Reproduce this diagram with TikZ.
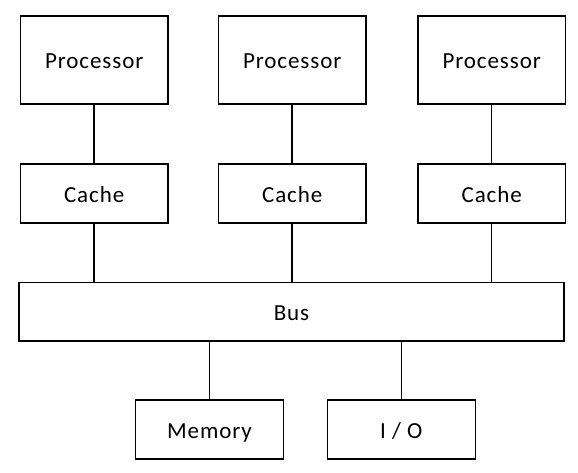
\documentclass[tikz,border=0pt]{standalone}
\usepackage{fontspec}
\setmainfont{Carlito}[LetterSpace=4]
\begin{document}
\begin{tikzpicture}[x=1pt,y=-1pt,
  box/.style={draw=black,line width=1.5pt,inner sep=0pt,font=\fontsize{23}{27}\selectfont,text height=15pt,text depth=0pt},
  procbox/.style={box,minimum width=147.7pt,minimum height=88pt},
  cachebox/.style={box,minimum width=147.7pt,minimum height=59pt},
  link/.style={line width=1.5pt}]
\useasboundingbox (0,0) rectangle (578,472);
\node[procbox] (p1) at (94.2,60) {\raisebox{-1pt}{Processor}};
\node[procbox] (p2) at (292.2,60) {\raisebox{-1pt}{Processor}};
\node[procbox] (p3) at (491.7,60) {\raisebox{-1pt}{Processor}};
\node[cachebox] (c1) at (94.2,193.5) {\raisebox{-1pt}{Cache}};
\node[cachebox] (c2) at (292.2,193.5) {\raisebox{-1pt}{Cache}};
\node[cachebox] (c3) at (491.7,193.5) {\raisebox{-1pt}{Cache}};
\node[box,minimum width=545pt,minimum height=58.7pt] (bus) at (291.5,311.7) {\raisebox{-1pt}{Bus}};
\node[box,minimum width=148.4pt,minimum height=59pt] (mem) at (209.5,429.5) {\raisebox{-1pt}{Memory}};
\node[box,minimum width=148pt,minimum height=59pt] (io) at (401.3,429.5) {\raisebox{-1pt}{I / O}};
\foreach \i in {1,2,3} {
  \draw[link] (p\i.south) -- (c\i.north);
  \draw[link] (c\i.south) -- (bus.north -| c\i.south);
}
\draw[link] (bus.south -| mem.north) -- (mem.north);
\draw[link] (bus.south -| io.north) -- (io.north);
\end{tikzpicture}
\end{document}
